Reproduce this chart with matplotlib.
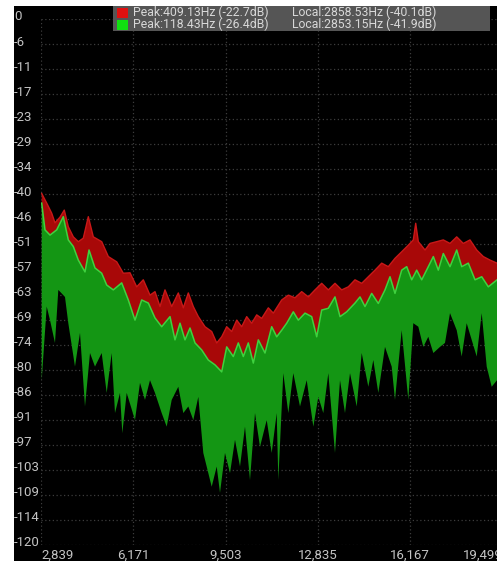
import numpy as np
import matplotlib.pyplot as plt
from matplotlib.patches import Rectangle
from matplotlib.transforms import ScaledTranslation

W, H = 497, 561

# axis ticks as shown on the analyzer screen
x_ticks = [2839, 6171, 9503, 12835, 16167, 19499]
y_labels = ["0", "-6", "-11", "-17", "-23", "-29", "-34", "-40", "-46", "-51", "-57",
            "-63", "-69", "-74", "-80", "-86", "-91", "-97", "-103", "-109", "-114", "-120"]

# legend
legend_peak = ["Peak:409.13Hz (-22.7dB)", "Peak:118.43Hz (-26.4dB)"]
legend_local = ["Local:2858.53Hz (-40.1dB)", "Local:2853.15Hz (-41.9dB)"]

# red trace (peak hold), upper edge
red_hz = [2864, 3045, 3225, 3344, 3525, 3680, 3825, 4005, 4186, 4366, 4547, 4727, 5030,
          5269, 5572, 5810, 6052, 6294, 6532, 6774, 6954, 7135, 7315, 7557, 7796, 7976,
          8157, 8337, 8518, 8759, 9001, 9182, 9362, 9543, 9723, 9904, 10084, 10265,
          10445, 10626, 10806, 11045, 11225, 11528, 11767, 12008, 12250, 12489, 12730,
          12972, 13211, 13452, 13694, 13933, 14174, 14416, 14655, 14896, 15138, 15376,
          15618, 15860, 16099, 16279, 16366, 16460, 16702, 16882, 17124, 17362, 17604,
          17846, 18084, 18326, 18568, 18806, 19048, 19301]
red_db = [-39.8, -42.0, -44.3, -46.5, -45.2, -43.6, -47.4, -49.7, -50.8, -50.0, -45.1,
          -49.7, -50.8, -54.2, -55.4, -58.0, -57.9, -61.1, -59.5, -63.0, -62.2, -65.6,
          -61.8, -65.6, -62.5, -65.9, -62.5, -65.6, -67.9, -70.2, -71.3, -73.9, -72.5,
          -70.2, -71.3, -68.7, -70.2, -67.9, -69.4, -67.5, -68.3, -65.9, -67.1, -64.1,
          -63.0, -63.6, -62.2, -63.4, -61.8, -60.3, -61.8, -60.3, -61.8, -61.1, -59.5,
          -60.3, -58.8, -57.3, -55.7, -56.5, -54.6, -53.1, -51.6, -50.4, -46.6, -50.8,
          -52.7, -51.2, -50.8, -50.4, -51.2, -49.7, -51.2, -50.4, -52.7, -54.2, -55.0,
          -55.7]

# green trace (live), upper edge
green_top_hz = [2864, 2983, 3164, 3406, 3644, 3825, 4005, 4186, 4427, 4572, 4788, 5030,
                5211, 5449, 5752, 5991, 6232, 6474, 6713, 6954, 7196, 7496, 7676, 7857,
                8037, 8218, 8399, 8640, 8879, 9120, 9362, 9543, 9781, 9962, 10142, 10323,
                10503, 10684, 10925, 11167, 11348, 11528, 11709, 11947, 12128, 12370,
                12611, 12792, 12972, 13211, 13452, 13633, 13875, 14174, 14355, 14535,
                14777, 15016, 15257, 15438, 15618, 15860, 16041, 16221, 16402, 16582,
                16821, 17002, 17182, 17362, 17604, 17846, 18026, 18265, 18507, 18749,
                18987, 19301]
green_top_db = [-42.0, -48.1, -49.3, -48.1, -45.1, -50.4, -51.9, -55.0, -57.7, -52.7,
                -56.8, -58.0, -60.7, -61.8, -60.2, -64.1, -68.7, -64.1, -64.8, -68.2,
                -70.2, -67.9, -73.2, -69.4, -73.2, -70.5, -73.9, -75.5, -77.8, -78.9,
                -80.5, -74.8, -77.0, -73.9, -77.0, -73.9, -78.5, -73.2, -76.2, -70.2,
                -72.5, -71.0, -69.4, -66.8, -68.7, -67.1, -67.9, -72.5, -66.4, -66.0,
                -63.4, -67.9, -66.8, -64.8, -63.4, -65.6, -62.6, -64.9, -61.8, -58.8,
                -62.6, -57.3, -56.5, -59.5, -57.3, -59.5, -56.5, -54.2, -57.3, -53.5,
                -56.5, -52.7, -56.5, -55.7, -59.5, -58.8, -61.1, -59.5]

# green trace, lower edge (tips of the dips)
green_low_hz = [2864, 3045, 3164, 3344, 3464, 3705, 3825, 4066, 4247, 4427, 4608, 4788,
                5030, 5211, 5391, 5510, 5691, 5774, 5933, 6232, 6413, 6593, 6774, 6954,
                7196, 7377, 7557, 7796, 7976, 8157, 8337, 8518, 8698, 8879, 9001, 9182,
                9301, 9481, 9662, 9842, 10023, 10203, 10384, 10564, 10745, 10987, 11167,
                11348, 11406, 11586, 11767, 11947, 12189, 12431, 12670, 12850, 13030,
                13211, 13452, 13633, 13813, 13994, 14236, 14416, 14655, 14835, 15016,
                15257, 15499, 15618, 15860, 16099, 16279, 16460, 16640, 16821, 17002,
                17243, 17423, 17604, 17846, 18026, 18206, 18387, 18568, 18749, 18929,
                19109, 19301]
green_low_db = [-82.4, -65.6, -68.7, -73.9, -61.8, -63.4, -69.4, -79.3, -71.6, -88.4,
                -76.2, -79.3, -76.2, -85.3, -76.2, -89.9, -85.3, -94.5, -85.3, -91.5,
                -83.0, -86.9, -82.4, -85.3, -89.9, -93.0, -86.9, -83.9, -89.9, -88.4,
                -91.5, -86.2, -99.0, -103.6, -106.7, -102.1, -108.1, -99.0, -103.6,
                -96.0, -102.1, -93.0, -105.2, -89.9, -97.6, -91.5, -99.0, -89.9, -105.2,
                -80.8, -89.9, -80.8, -88.4, -82.4, -93.0, -86.2, -89.9, -80.8, -99.0,
                -82.4, -89.9, -80.8, -88.4, -76.2, -83.9, -77.8, -85.3, -74.8, -79.3,
                -86.9, -71.0, -86.9, -69.4, -70.2, -74.8, -72.5, -76.2, -74.8, -73.9,
                -67.1, -71.0, -77.0, -69.4, -73.2, -77.0, -67.1, -79.3, -83.9, -82.4]


def fx(px):
    return px / W


def fy(py):
    return 1 - py / H


fig = plt.figure(figsize=(W / 100, H / 100), dpi=100, facecolor="white")
# black screen area (screenshot has a thin white border top/left)
fig.add_artist(Rectangle((fx(14), 0), 1, fy(6), transform=fig.transFigure,
                         facecolor="black", edgecolor="none", zorder=-1))

# axes extend a little past the right edge, like the cropped screenshot
ax = fig.add_axes([fx(41), fy(545), (502.5 - 41) / W, (545 - 19) / H])
ax.set_facecolor("none")
ax.set_xlim(2839, 19499)
ax.set_ylim(-120, 0)
for s in ax.spines.values():
    s.set_visible(False)

# red band: from red top edge down to the green top edge
ax.fill(red_hz + green_top_hz[::-1], red_db + green_top_db[::-1],
        color="#a80808", lw=0, zorder=2)
ax.plot(red_hz, red_db, color="#c81818", lw=1.0, zorder=2.5)

# green band
ax.fill(green_top_hz + green_low_hz[::-1], green_top_db + green_low_db[::-1],
        color="#149614", lw=0, zorder=3)
ax.plot(green_top_hz, green_top_db, color="#3fd23f", lw=1.1, zorder=3.5)

ax.set_xticks(x_ticks, [f"{v:,}" for v in x_ticks])
ax.set_yticks(np.linspace(0, -120, len(y_labels)), y_labels)
ax.tick_params(axis="both", length=0, colors="#c4c4c4", labelsize=9.5)
ax.tick_params(axis="y", pad=19.4)
ax.tick_params(axis="x", pad=2.5)
for lab in ax.get_yticklabels():
    lab.set_ha("left")
    lab.set_transform(lab.get_transform() + ScaledTranslation(0, 0.035, fig.dpi_scale_trans))
    lab.set_family("Roboto")
for lab in ax.get_xticklabels():
    lab.set_family("Roboto")
ax.get_xticklabels()[0].set_ha("left")
ax.get_xticklabels()[-1].set_ha("right")

ax.grid(True, color="#3c3c3c", linestyle=(0, (1, 2)), linewidth=0.9)
ax.set_axisbelow(True)

# legend box drawn like the analyzer overlay
fig.add_artist(Rectangle((fx(113), fy(31)), fx(490) - fx(113), fy(6) - fy(31),
                         transform=fig.transFigure, facecolor="#555555",
                         edgecolor="none", zorder=5))
for i, col in enumerate(["#e01010", "#10e010"]):
    top = 7.5 + i * 12
    fig.add_artist(Rectangle((fx(117), fy(top + 10)), fx(128) - fx(117), fy(top) - fy(top + 10),
                             transform=fig.transFigure, facecolor=col,
                             edgecolor="none", zorder=6))
    yc = fy(top + 5)
    fig.text(fx(133), yc, legend_peak[i], color="#d8d8d8", fontsize=8.8,
             family="Roboto", va="center", ha="left", zorder=6)
    fig.text(fx(292), yc, legend_local[i], color="#d8d8d8", fontsize=8.8,
             family="Roboto", va="center", ha="left", zorder=6)

fig.savefig("out.png", dpi=100, facecolor="white")
